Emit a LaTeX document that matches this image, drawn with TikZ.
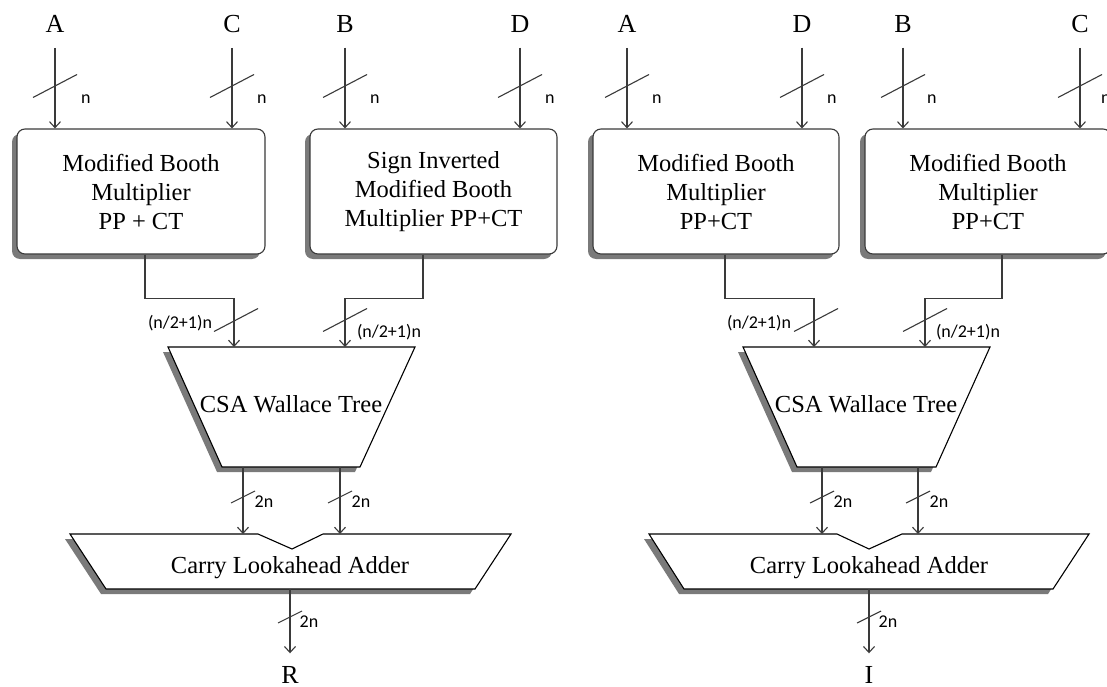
\documentclass[tikz,border=0pt]{standalone}
\usepackage{fontspec}
\setmainfont{Liberation Serif}
\newfontfamily\buslabelfont{Carlito}
\usetikzlibrary{positioning,arrows.meta,shadows}
\definecolor{wiregray}{HTML}{3A3A3A}
\definecolor{shadowgray}{HTML}{7A7A7A}

\begin{document}
\begin{tikzpicture}[x=1pt, y=-1pt,
  wire/.style={draw=wiregray, line width=1.1pt},
  bus/.style={wire, -{Straight Barb[length=6pt,width=11pt]}},
  castshadow/.style={drop shadow={shadow xshift=-5pt, shadow yshift=-5pt, fill=shadowgray, opacity=1}},
  mbm/.style={draw=wiregray, line width=1.1pt, fill=white, rounded corners=8pt, castshadow,
    minimum height=125pt, align=center, inner sep=0pt, font=\fontsize{24.5}{29}\selectfont},
  block/.style={draw=black, line width=1.1pt, fill=white, castshadow},
  blocktext/.style={inner sep=0pt, font=\fontsize{24.5}{29}\selectfont},
  port/.style={inner sep=0pt, font=\fontsize{26}{30}\selectfont},
  buswidth/.style={inner sep=0pt, font=\buslabelfont\fontsize{18}{20}\selectfont},
  wide bus/.pic={\draw[wire] (-22,11.5) -- (22,-11.5);},
  narrow bus/.pic={\draw[wire] (-12,6) -- (12,-6);}
]
  \useasboundingbox (0,0) rectangle (1107,687);

  % ---------- real part ----------
  \node[port] (inA1) at (55,24)  {A};
  \node[port] (inC1) at (232,24) {C};
  \node[port] (inB1) at (345,24) {B};
  \node[port] (inD1) at (520,24) {D};

  \node[mbm, minimum width=248pt] (mbA) at (141,191.5) {Modified Booth\\Multiplier\\PP + CT};
  \node[mbm, minimum width=247pt] (mbB) at (433.5,191.5) {Sign Inverted\\Modified Booth\\Multiplier PP+CT};

  \draw[bus, shorten <=15pt] (inA1) -- (mbA.north -| inA1);
  \draw[bus, shorten <=15pt] (inC1) -- (mbA.north -| inC1);
  \draw[bus, shorten <=15pt] (inB1) -- (mbB.north -| inB1);
  \draw[bus, shorten <=15pt] (inD1) -- (mbB.north -| inD1);
  \pic at (55,86)  {wide bus};  \node[buswidth, anchor=west] (nA1) at (81,99)  {n};
  \pic at (232,86) {wide bus};  \node[buswidth, anchor=west] (nC1) at (257,99) {n};
  \pic at (345,86) {wide bus};  \node[buswidth, anchor=west] (nB1) at (370,99) {n};
  \pic at (520,86) {wide bus};  \node[buswidth, anchor=west] (nD1) at (545,99) {n};

  % CSA tree
  \draw[block] (168,347) -- (415,347) -- (360,467) -- (222,467) -- cycle;
  \node[blocktext] (csaA) at (291,404) {CSA Wallace Tree};
  \coordinate (csaA-in1)  at (234,347);
  \coordinate (csaA-in2)  at (345,347);
  \coordinate (csaA-out1) at (243,467);
  \coordinate (csaA-out2) at (340,467);

  \draw[bus] ([xshift=4pt]mbA.south) -- ++(0,44) -| (csaA-in1);
  \draw[bus] ([xshift=-10.5pt]mbB.south) -- ++(0,44) -| (csaA-in2);
  \pic at (236,320) {wide bus};  \node[buswidth] (ppA1) at (180,323) {(n/2+1)n};
  \pic at (345,320) {wide bus};  \node[buswidth] (ppA2) at (389,332) {(n/2+1)n};

  % adder
  \draw[block] (70,534) -- (258,534) -- (292,549) -- (323,534) -- (511,534)
    -- (475,589) -- (106,589) -- cycle;
  \node[blocktext] (claA) at (290,568) {Carry Lookahead Adder};
  \coordinate (claA-in1) at (243,534);
  \coordinate (claA-in2) at (340,534);
  \coordinate (claA-out) at (290,589);

  \draw[bus] (csaA-out1) -- (claA-in1);
  \draw[bus] (csaA-out2) -- (claA-in2);
  \pic at (243,497) {narrow bus};  \node[buswidth] (sA1) at (264,502) {2n};
  \pic at (340,497) {narrow bus};  \node[buswidth] (sA2) at (361,502) {2n};

  \node[port] (outR) at (290,675) {R};
  \draw[bus, shorten >=13pt] (claA-out) -- (outR);
  \pic at (290,617) {narrow bus};  \node[buswidth] (sR) at (309,622) {2n};

  % ---------- imaginary part ----------
  \node[port] (inA2) at (627,24)  {A};
  \node[port] (inD2) at (802,24)  {D};
  \node[port] (inB2) at (903,24)  {B};
  \node[port] (inC2) at (1080,24) {C};

  \node[mbm, minimum width=246pt] (mbC) at (716,191.5) {Modified Booth\\Multiplier\\PP+CT};
  \node[mbm, minimum width=246pt] (mbD) at (988,191.5) {Modified Booth\\Multiplier\\PP+CT};

  \draw[bus, shorten <=15pt] (inA2) -- (mbC.north -| inA2);
  \draw[bus, shorten <=15pt] (inD2) -- (mbC.north -| inD2);
  \draw[bus, shorten <=15pt] (inB2) -- (mbD.north -| inB2);
  \draw[bus, shorten <=15pt] (inC2) -- (mbD.north -| inC2);
  \pic at (627,86)  {wide bus};  \node[buswidth, anchor=west] (nA2) at (652,99)  {n};
  \pic at (802,86)  {wide bus};  \node[buswidth, anchor=west] (nD2) at (827,99)  {n};
  \pic at (903,86)  {wide bus};  \node[buswidth, anchor=west] (nB2) at (927,99)  {n};
  \pic at (1080,86) {wide bus};  \node[buswidth, anchor=west] (nC2) at (1101,99) {n};

  % CSA tree
  \draw[block] (743,347) -- (990,347) -- (936,467) -- (797,467) -- cycle;
  \node[blocktext] (csaB) at (866,404) {CSA Wallace Tree};
  \coordinate (csaB-in1)  at (814,347);
  \coordinate (csaB-in2)  at (925,347);
  \coordinate (csaB-out1) at (822,467);
  \coordinate (csaB-out2) at (918,467);

  \draw[bus] ([xshift=9pt]mbC.south) -- ++(0,44) -| (csaB-in1);
  \draw[bus] ([xshift=14pt]mbD.south) -- ++(0,44) -| (csaB-in2);
  \pic at (816,320) {wide bus};  \node[buswidth] (ppB1) at (759,323) {(n/2+1)n};
  \pic at (925,320) {wide bus};  \node[buswidth] (ppB2) at (968,332) {(n/2+1)n};

  % adder
  \draw[block] (649,534) -- (837,534) -- (869,549) -- (902,534) -- (1089,534)
    -- (1053,589) -- (684,589) -- cycle;
  \node[blocktext] (claB) at (869,568) {Carry Lookahead Adder};
  \coordinate (claB-in1) at (822,534);
  \coordinate (claB-in2) at (918,534);
  \coordinate (claB-out) at (869,589);

  \draw[bus] (csaB-out1) -- (claB-in1);
  \draw[bus] (csaB-out2) -- (claB-in2);
  \pic at (822,497) {narrow bus};  \node[buswidth] (sB1) at (843,502) {2n};
  \pic at (918,497) {narrow bus};  \node[buswidth] (sB2) at (939,502) {2n};

  \node[port] (outI) at (869,675) {I};
  \draw[bus, shorten >=13pt] (claB-out) -- (outI);
  \pic at (869,617) {narrow bus};  \node[buswidth] (sI) at (888,622) {2n};
\end{tikzpicture}
\end{document}
